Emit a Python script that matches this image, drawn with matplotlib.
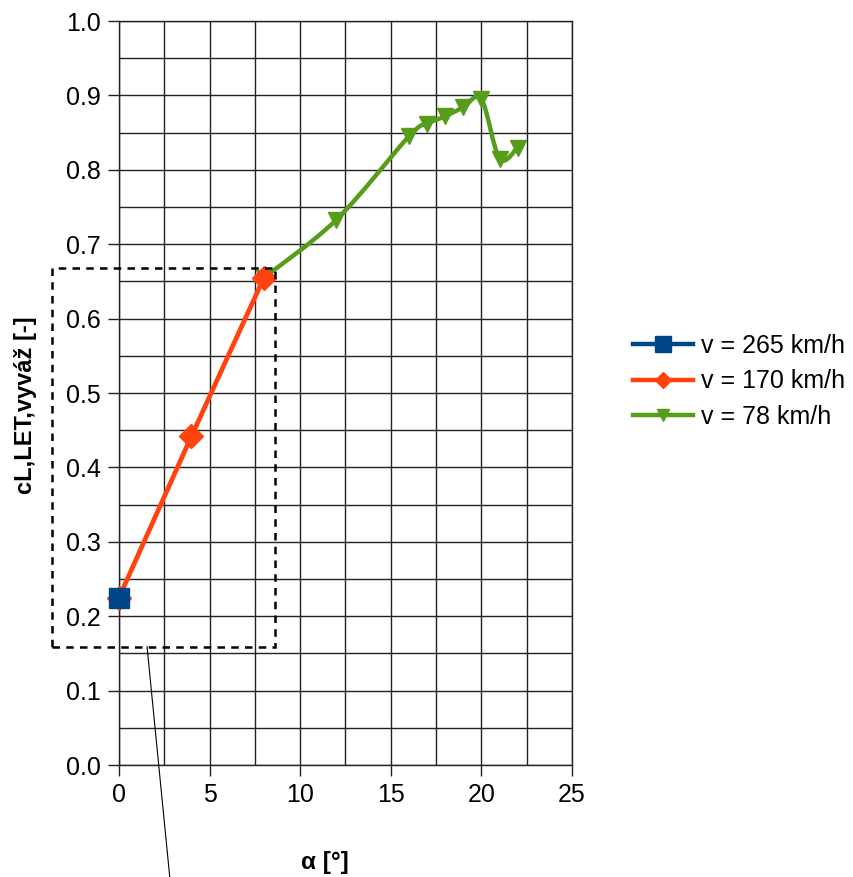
import matplotlib.pyplot as plt
from matplotlib.path import Path
from matplotlib.patches import PathPatch, Rectangle
from matplotlib.lines import Line2D
from matplotlib.ticker import MultipleLocator

plt.rcParams['font.family'] = ['Liberation Sans', 'DejaVu Sans']

# data
alpha_265 = [0]
cl_265 = [0.225]

alpha_170 = [0, 4, 8]
cl_170 = [0.225, 0.442, 0.655]

alpha_78 = [8, 12, 16, 17, 18, 19, 20, 21, 22]
cl_78 = [0.655, 0.733, 0.845, 0.862, 0.872, 0.884, 0.895, 0.815, 0.83]

blue = '#004586'
red = '#ff420e'
green = '#579d1c'


def smooth_path(xs, ys):
    # Catmull-Rom through the points, drawn as cubic Bezier segments
    pts = list(zip(xs, ys))
    verts = [pts[0]]
    codes = [Path.MOVETO]
    n = len(pts)
    for i in range(n - 1):
        p0 = pts[max(i - 1, 0)]
        p1 = pts[i]
        p2 = pts[i + 1]
        p3 = pts[min(i + 2, n - 1)]
        c1 = (p1[0] + (p2[0] - p0[0]) / 6, p1[1] + (p2[1] - p0[1]) / 6)
        c2 = (p2[0] - (p3[0] - p1[0]) / 6, p2[1] - (p3[1] - p1[1]) / 6)
        verts += [c1, c2, p2]
        codes += [Path.CURVE4] * 3
    return Path(verts, codes)


fig = plt.figure(figsize=(8.54, 8.77), dpi=100)
ax = fig.add_axes([0.1393, 0.1277, 0.5305, 0.8483])

ax.set_xlim(0, 25)
ax.set_ylim(0, 1.0)
ax.xaxis.set_major_locator(MultipleLocator(5))
ax.xaxis.set_minor_locator(MultipleLocator(2.5))
ax.yaxis.set_major_locator(MultipleLocator(0.1))
ax.yaxis.set_minor_locator(MultipleLocator(0.05))
ax.yaxis.set_major_formatter(plt.FormatStrFormatter('%.1f'))
ax.grid(True, which='both', color='#222222', linewidth=1.0)
ax.set_axisbelow(True)
for s in ax.spines.values():
    s.set_color('#222222')
    s.set_linewidth(1.0)
ax.tick_params(which='major', length=8, width=1, color='#222222', labelsize=18, pad=5)
ax.tick_params(which='minor', length=0)

# green curve (smoothed)
ax.add_patch(PathPatch(smooth_path(alpha_78, cl_78), fill=False, edgecolor=green,
                       linewidth=3.2, zorder=3))
ax.plot(alpha_78, cl_78, linestyle='none', marker='v', markersize=11, color=green, zorder=4)

ax.plot(alpha_170, cl_170, color=red, linewidth=3.4, marker='D', markersize=12, zorder=5,
        clip_on=False)
ax.plot(alpha_265, cl_265, color=blue, linewidth=3, marker='s', markersize=14, zorder=6,
        clip_on=False)

# dashed zoom frame and pointer line
ax.add_patch(Rectangle((-3.7, 0.159), 12.3, 0.509, fill=False, edgecolor='black',
                       linestyle=(0, (3, 2.5)), linewidth=1.8, clip_on=False, zorder=7))
ax.plot([1.55, 2.8], [0.159, -0.15], color='black', linewidth=0.8, clip_on=False, zorder=7)

ax.set_xlabel('α [°]', fontsize=17.5, fontweight='bold')
ax.xaxis.set_label_coords(0.455, -0.115)
ax.set_ylabel('cL,LET,vyváž [-]', fontsize=17, fontweight='bold')
ax.yaxis.set_label_coords(-0.18, 0.484)

handles = [
    Line2D([], [], color=blue, linewidth=3.2, marker='s', markersize=11),
    Line2D([], [], color=red, linewidth=3.2, marker='D', markersize=8),
    Line2D([], [], color=green, linewidth=3.2, marker='v', markersize=9),
]
labels = ['v = 265 km/h', 'v = 170 km/h', 'v = 78 km/h']
fig.legend(handles, labels, loc='center left', bbox_to_anchor=(0.715, 0.565),
           frameon=False, fontsize=18, handlelength=2.4, handletextpad=0.3,
           labelspacing=0.45)

fig.savefig('out.png', dpi=100)
